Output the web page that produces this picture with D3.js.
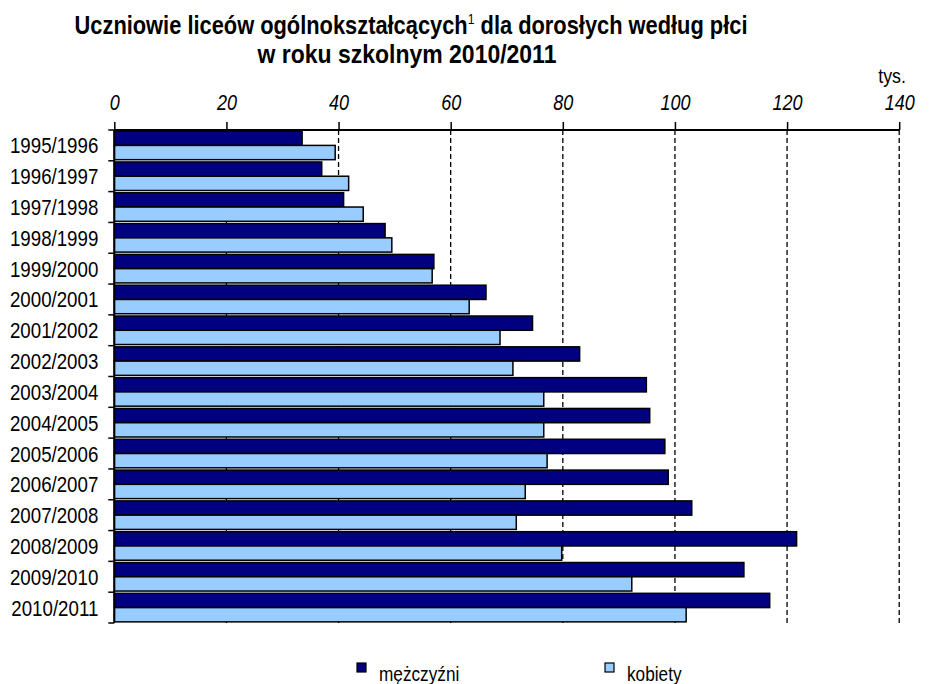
<!DOCTYPE html>
<html><head><meta charset="utf-8">
<script src="https://cdn.jsdelivr.net/npm/d3@7"></script>
<style>body{margin:0;background:#fff}</style>
</head><body><svg id="c" width="942" height="684"></svg>
<script>
const categories = ["1995/1996","1996/1997","1997/1998","1998/1999","1999/2000","2000/2001","2001/2002","2002/2003","2003/2004","2004/2005","2005/2006","2006/2007","2007/2008","2008/2009","2009/2010","2010/2011"];
const men =   [33.5, 37.0, 40.9, 48.3, 57.0, 66.3, 74.6, 83.0, 94.9, 95.5, 98.2, 98.8, 103.0, 121.7, 112.3, 116.9];
const women = [39.4, 41.8, 44.4, 49.5, 56.7, 63.3, 68.8, 71.1, 76.6, 76.6, 77.2, 73.3, 71.7, 79.8, 92.3, 102.0];
const seriesNames = ["mężczyźni", "kobiety"];
const xTicks = [0, 20, 40, 60, 80, 100, 120, 140];

const font = "'Liberation Sans',Arial,sans-serif";
const colors = ["#000080", "#99CCFF"];
const svg = d3.select("#c");
const L = 114.3, R = 899.2, T = 130, B = 623;
const x = d3.scaleLinear().domain([0, 140]).range([L, R]);
const y = d3.scaleBand().domain(categories).range([T, B]).paddingInner(0).paddingOuter(0);
const inner = d3.scaleBand().domain([0,1]).range([0, y.bandwidth()]).paddingInner(0).paddingOuter(0.08);

function narrow(sel, px, py, k){ return sel.attr("transform",`translate(${px},${py}) scale(${k},1)`); }
function fitWidth(t, cx, py, w){
  const m = t.node().getComputedTextLength();
  narrow(t, cx, py, w/m);
}

// title
const t1 = svg.append("text").attr("text-anchor","middle").attr("font-family",font)
  .attr("font-size",25).attr("font-weight","bold").attr("fill","#000");
t1.append("tspan").text("Uczniowie liceów ogólnokształcących");
t1.append("tspan").attr("font-size",14).attr("dy",-10).attr("font-weight","normal").text("1");
t1.append("tspan").attr("dy",10).text(" dla dorosłych według płci");
fitWidth(t1, 411, 34, 673);
const t2 = svg.append("text").attr("text-anchor","middle").attr("font-family",font)
  .attr("font-size",25).attr("font-weight","bold").text("w roku szkolnym 2010/2011");
fitWidth(t2, 407, 63, 299);
narrow(svg.append("text").attr("text-anchor","end").attr("font-family",font)
  .attr("font-size",21).text("tys."), 906, 83, 0.85);

// gridlines
svg.append("g").selectAll("line").data(xTicks.slice(1)).join("line")
  .attr("x1",d=>x(d)).attr("x2",d=>x(d)).attr("y1",T).attr("y2",B)
  .attr("stroke","#000").attr("stroke-width",1.3).attr("stroke-dasharray","5,3");

// bars
const g = svg.append("g");
categories.forEach((c,i)=>{
  [men[i], women[i]].forEach((v,k)=>{
    g.append("rect").attr("x",x(0)).attr("y",y(c)+inner(k))
      .attr("width",x(v)-x(0)).attr("height",inner.bandwidth())
      .attr("fill",colors[k]).attr("stroke","#000").attr("stroke-width",1.5);
  });
});

// top axis
const xa = d3.axisTop(x).tickValues(xTicks).tickSize(8).tickFormat(d3.format("d"));
const ax = svg.append("g").attr("transform",`translate(0,${T})`).call(xa);
ax.select(".domain").attr("stroke-width",2.2).attr("d",`M${L},0H${R}`);
ax.selectAll(".tick line").attr("stroke-width",1.5);
ax.selectAll(".tick text").attr("font-family",font).attr("font-size",22).attr("font-style","italic")
  .attr("fill","#000").attr("y",null).attr("dy",null)
  .attr("transform","translate(0,-20) scale(0.82,1)");

// left axis
const ya = d3.axisLeft(y).tickSize(0);
const ay = svg.append("g").attr("transform",`translate(${L},0)`).call(ya);
ay.select(".domain").attr("stroke-width",2).attr("d",`M0,${T}V${B}`);
ay.selectAll(".tick text").attr("font-family",font).attr("font-size",22).attr("fill","#000")
  .attr("x",null).attr("dy",null).attr("transform","translate(-16,8) scale(0.85,1)");
svg.append("g").selectAll("line").data(d3.range(categories.length+1)).join("line")
  .attr("x1",L-6).attr("x2",L).attr("y1",i=>T+i*y.step()).attr("y2",i=>T+i*y.step())
  .attr("stroke","#000").attr("stroke-width",1.5);

// legend
const lg = svg.append("g");
const lx = [357, 605];
seriesNames.forEach((n,k)=>{
  lg.append("rect").attr("x",lx[k]).attr("y",663).attr("width",9).attr("height",9)
    .attr("fill",colors[k]).attr("stroke","#000").attr("stroke-width",1.2);
  narrow(lg.append("text").attr("font-family",font).attr("font-size",21).text(n), lx[k]+22, 681, 0.82);
});
</script></body></html>
